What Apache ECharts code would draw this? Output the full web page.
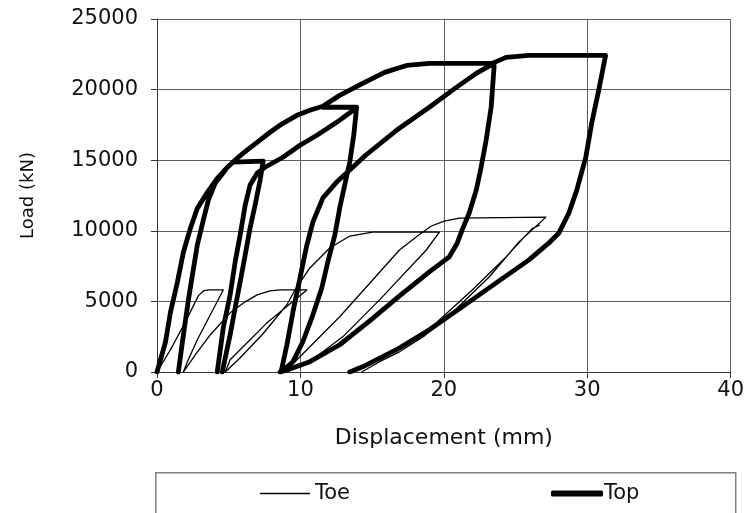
<!DOCTYPE html>
<html><head><meta charset="utf-8">
<script src="https://cdn.jsdelivr.net/npm/echarts@6/dist/echarts.min.js"></script>
<style>html,body{margin:0;padding:0;background:#fff}#c{width:747px;height:513px}</style>
</head><body><div id="c"></div>
<script>
// Axis ticks
const xTicks = [0, 10, 20, 30, 40];
const yTicks = [0, 5000, 10000, 15000, 20000, 25000];

// ---- Top (thick) : [displacement mm, load kN] ----
const topEnvelope = [[0,0],[0.59,2120],[0.94,4240],[1.42,6360],[1.84,8480],[2.33,10180],[2.81,11590],[3.51,12720],[4.20,13710],[4.90,14490],[5.59,15140],[6.28,15710],[6.98,16270],[7.88,16980],[8.78,17610],[9.76,18180],[10.66,18540],[11.56,18820],[12.74,19590],[14.34,20440],[15.87,21220],[17.40,21710],[18.99,21860],[23.37,21860],[24.34,22280],[25.94,22420],[31.28,22420],[30.80,19950],[30.31,17610],[29.90,15210],[29.27,12880],[28.72,11260],[28.02,9840],[27.33,9140],[25.94,7940],[23.65,6310],[21.28,4610],[18.99,2990],[16.70,1580],[14.34,370],[13.44,0]];
const topCycle1 = [[5.31,14860],[7.40,14930],[7.19,13590],[6.84,11820],[6.49,10200],[6.15,8290],[5.80,6380],[5.45,4540],[5.10,2640],[4.76,1010],[4.55,0]];
const topReload2 = [[4.20,0],[4.62,3130],[5.10,5460],[5.45,7790],[5.80,9700],[6.15,11820],[6.49,13240],[6.98,14080],[7.53,14500],[8.78,15210],[9.97,16060],[11.15,16770],[12.53,17680],[13.78,18610]];
const topCycle2 = [[11.56,18750],[13.92,18750],[13.72,16770],[13.44,14860],[13.09,13240],[12.74,11610],[12.40,9700],[11.91,7790],[11.49,5950],[10.87,4050],[10.17,2140],[9.48,730],[8.65,0],[9.06,1930],[9.48,4260],[9.97,6660],[10.45,8990],[10.87,10620],[11.56,12320],[12.53,13450],[13.65,14500],[14.55,15350],[16.70,17120],[18.99,18750],[20.87,20160],[22.26,21150],[23.37,21780]];
const topUnload3 = [[23.51,21710],[23.30,18750],[22.95,16420],[22.60,14500],[22.26,12880],[21.77,11260],[21.28,10060],[20.94,9140],[20.38,8150],[18.99,7090],[16.91,5390],[14.83,3620],[12.74,1930],[10.66,730],[8.92,90],[8.58,0]];
const topInner = [[1.49,0],[1.70,1580],[1.91,3130],[2.19,5110],[2.47,6870],[2.81,8990],[3.23,10760],[3.58,12170],[4.06,13380],[4.76,14290]];

// ---- Toe (thin) ----
const toeCycle1 = [[0,0],[0.94,1580],[1.98,3550],[2.88,5390],[3.23,5740],[3.58,5810],[4.62,5810],[3.72,4050],[2.81,2280],[2.12,730],[1.84,0]];
const toeCycle2 = [[1.84,0],[2.67,1220],[3.72,2640],[5.10,4190],[6.15,4970],[6.98,5460],[7.88,5740],[8.58,5810],[10.45,5810],[7.67,3480],[5.10,870],[4.76,0]];
const toeCycle3 = [[4.76,0],[5.80,1010],[7.33,2640],[9.06,4760],[9.62,5810],[10.66,7370],[12.05,8780],[13.44,9630],[15.03,9910],[19.69,9910],[18.78,8640],[15.52,5110],[12.95,2490],[11.01,1010],[8.92,0]];
const toeCycle4 = [[8.92,0],[9.76,870],[12.74,3910],[16.91,8640],[18.16,9630],[19.13,10340],[20.03,10690],[21.08,10900],[27.12,10970],[25.24,9210],[23.16,6730],[20.59,4190],[18.65,2560],[16.91,1430],[15.52,730],[14.27,0]];
const toeExtra = [[26.70,10410],[26.15,10150],[24.34,8150],[21.98,5810],[19.69,3690],[18.99,2990]];

function join(segs) {
  const out = [];
  segs.forEach((s, i) => { if (i) out.push([null, null]); s.forEach(p => out.push(p)); });
  return out;
}

const FONT = 'DejaVu Sans, Liberation Sans, Arial, sans-serif';
const chart = echarts.init(document.getElementById('c'), null, {renderer: 'canvas'});
chart.setOption({
  backgroundColor: '#fff',
  animation: false,
  grid: {left: 157, right: 14, top: 19, bottom: 141, containLabel: false},
  xAxis: {
    type: 'value', min: xTicks[0], max: xTicks[xTicks.length - 1], interval: 10,
    name: 'Displacement (mm)', nameLocation: 'middle', nameGap: 55,
    nameTextStyle: {fontFamily: FONT, fontSize: 22, color: '#111'},
    axisLine: {show: true, lineStyle: {color: '#333', width: 1}},
    axisTick: {show: true, length: 6, lineStyle: {color: '#333'}},
    axisLabel: {margin: 8, fontFamily: FONT, fontSize: 21, color: '#111'},
    splitLine: {show: true, lineStyle: {color: '#5c5c5c', width: 1}}
  },
  yAxis: {
    type: 'value', min: yTicks[0], max: yTicks[yTicks.length - 1], interval: 5000,
    name: 'Load (kN)', nameLocation: 'middle', nameGap: 120,
    nameTextStyle: {fontFamily: FONT, fontSize: 18, color: '#111'},
    axisLine: {show: true, lineStyle: {color: '#333', width: 1}},
    axisTick: {show: true, length: 6, lineStyle: {color: '#333'}},
    axisLabel: {margin: 19, fontFamily: FONT, fontSize: 21, color: '#111', formatter: v => String(v)},
    splitLine: {show: true, lineStyle: {color: '#5c5c5c', width: 1}}
  },
  legend: [
    {data: ['Toe'], left: 255, top: 478, icon: 'rect', itemWidth: 50, itemHeight: 1.5,
     textStyle: {fontFamily: FONT, fontSize: 21, color: '#111'}},
    {data: ['Top'], left: 546, top: 478, icon: 'roundRect', itemWidth: 52, itemHeight: 6,
     textStyle: {fontFamily: FONT, fontSize: 21, color: '#111', padding: [0,0,0,-4]}}
  ],
  graphic: [{
    type: 'rect', left: 155, top: 472, silent: true, z: -1,
    shape: {width: 580, height: 42},
    style: {fill: '#fff', stroke: '#808080', lineWidth: 1.5}
  }],
  series: [
    {name: 'Toe', type: 'line', symbol: 'none', connectNulls: false, z: 2,
     lineStyle: {color: '#000', width: 1.3, join: 'round'},
     itemStyle: {color: '#000'},
     data: join([toeCycle1.concat(toeCycle2.slice(1), toeCycle3.slice(1), toeCycle4.slice(1)), toeExtra])},
    {name: 'Top', type: 'line', symbol: 'none', connectNulls: false, z: 3,
     lineStyle: {color: '#000', width: 4.8, join: 'round', cap: 'round'},
     itemStyle: {color: '#000'},
     data: join([topEnvelope, topCycle1, topReload2, topCycle2, topUnload3, topInner])}
  ]
});
</script></body></html>
